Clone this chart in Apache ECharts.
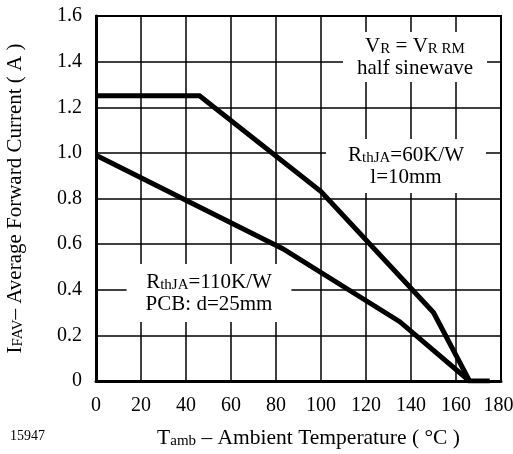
<!DOCTYPE html>
<html><head><meta charset="utf-8">
<script src="https://cdn.jsdelivr.net/npm/echarts@6/dist/echarts.min.js"></script>
<style>html,body{margin:0;padding:0;background:#fff}#c{width:513px;height:454px}</style>
</head><body><div id="c"></div>
<script>
const xMin = 0, xMax = 180, xStep = 20;
const yMin = 0, yMax = 1.6, yStep = 0.2;
const temp60 = [0, 46, 100, 150, 166, 175];
const cur60 = [1.25, 1.25, 0.83, 0.30, 0, 0];
const temp110 = [0, 83, 135, 166];
const cur110 = [0.99, 0.58, 0.26, 0];
const noteTop = '{n|V}{s|R}{n| = V}{s|R RM}\n{n|half sinewave}';
const note60 = '{n|R}{s|thJA}{n|=60K/W}\n{n|l=10mm}';
const note110 = '{n|R}{s|thJA}{n|=110K/W}\n{n|PCB: d=25mm}';
const xName = '{m|T}{s|amb}{m| – Ambient Temperature ( °C )}';
const yName = '{n|I}{s|FAV}{n|– Average Forward Current ( A )}';
const figId = '15947';

const F = 'Liberation Serif';
const rich = {
  n: {fontFamily: F, fontSize: 21, lineHeight: 22, color: '#000'},
  m: {fontFamily: F, fontSize: 21.5, lineHeight: 22, color: '#000'},
  s: {fontFamily: F, fontSize: 15, lineHeight: 12, verticalAlign: 'bottom', color: '#000'}
};
const pair = (xs, ys) => xs.map((x, i) => [x, ys[i]]);

const chart = echarts.init(document.getElementById('c'), null, {renderer: 'canvas'});
chart.setOption({
  animation: false,
  backgroundColor: '#fff',
  grid: {left: 96, right: 12, top: 16, bottom: 73, outerBoundsMode: 'none', containLabel: false,
    show: true, borderColor: '#000', borderWidth: 2, backgroundColor: 'transparent'},
  xAxis: {
    type: 'value', min: xMin, max: xMax, interval: xStep,
    axisLine: {show: true, lineStyle: {color: '#000', width: 3}},
    axisTick: {show: false},
    splitLine: {show: true, lineStyle: {color: '#000', width: 1.5}},
    axisLabel: {fontFamily: F, fontSize: 20, color: '#000', margin: 15,
      formatter: v => v === xMax ? '{e|' + v + '}' : String(v),
      rich: {e: {fontFamily: F, fontSize: 20, color: '#000', padding: [0, 5, 0, 0]}}},
    name: xName, nameLocation: 'middle', nameGap: 46,
    nameTextStyle: {fontFamily: F, fontSize: 21.5, color: '#000', padding: [0, 0, 0, 20], rich: rich}
  },
  yAxis: {
    type: 'value', min: yMin, max: yMax, interval: yStep,
    axisLine: {show: true, lineStyle: {color: '#000', width: 3}},
    axisTick: {show: false},
    splitLine: {show: true, lineStyle: {color: '#000', width: 1.5}},
    axisLabel: {fontFamily: F, fontSize: 20, color: '#000', margin: 14,
      formatter: v => v === 0 ? '0' : v.toFixed(1)},
    name: yName, nameLocation: 'middle', nameGap: 70,
    nameTextStyle: {fontFamily: F, fontSize: 21, color: '#000', rich: rich}
  },
  series: [
    {type: 'line', data: pair(temp60, cur60), symbol: 'none', z: 3,
     lineStyle: {color: '#000', width: 5, join: 'miter'}},
    {type: 'line', data: pair(temp110, cur110), symbol: 'none', z: 3,
     lineStyle: {color: '#000', width: 5, join: 'miter'}}
  ],
  graphic: [
    {type: 'text', x: 415, y: 57, z: 50, style: {text: noteTop, rich: rich, align: 'center', verticalAlign: 'middle', backgroundColor: '#fff', padding: [3, 14]}},
    {type: 'text', x: 406, y: 166, z: 50, style: {text: note60, rich: rich, align: 'center', verticalAlign: 'middle', backgroundColor: '#fff', padding: [5, 22]}},
    {type: 'text', x: 209, y: 293, z: 50, style: {text: note110, rich: rich, align: 'center', verticalAlign: 'middle', backgroundColor: '#fff', padding: [7, 19]}},
    {type: 'text', x: 10, y: 436, z: 50, style: {text: figId, fontFamily: F, fontSize: 14, fill: '#000', align: 'left', verticalAlign: 'middle'}}
  ]
});
</script></body></html>
